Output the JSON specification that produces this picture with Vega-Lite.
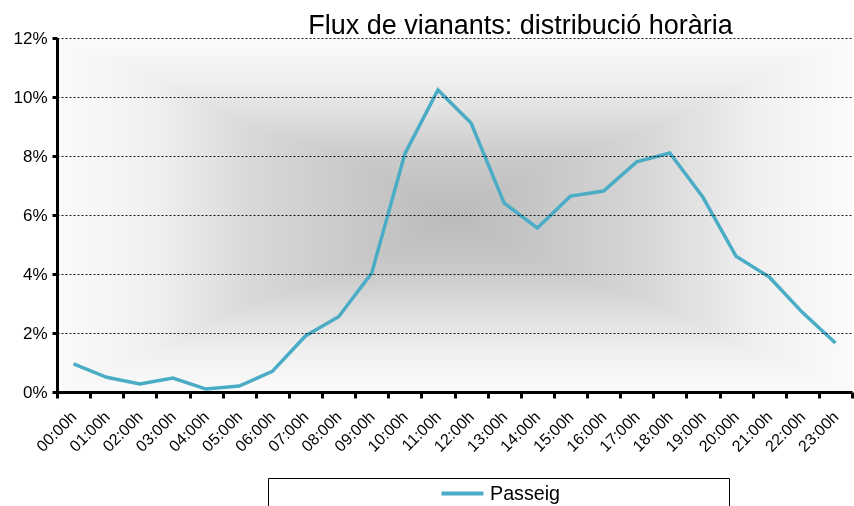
{
  "$schema": "https://vega.github.io/schema/vega-lite/v6.json",
  "autosize": {"type": "none"},
  "width": 795,
  "height": 354,
  "padding": {"left": 57, "top": 38, "right": 2, "bottom": 114},
  "background": "white",
  "config": {
    "font": "Liberation Sans",
    "view": {
      "stroke": null,
      "fill": {
        "gradient": "linear",
        "x1": 0, "y1": 0, "x2": 1, "y2": 0,
        "stops": [
          {"offset": 0, "color": "#fbfbfb"},
          {"offset": 0.12, "color": "#f0f0f0"},
          {"offset": 0.25, "color": "#d8d8d8"},
          {"offset": 0.4, "color": "#c6c6c6"},
          {"offset": 0.5, "color": "#bbbbbb"},
          {"offset": 0.6, "color": "#c6c6c6"},
          {"offset": 0.75, "color": "#d8d8d8"},
          {"offset": 0.88, "color": "#f0f0f0"},
          {"offset": 1, "color": "#fbfbfb"}
        ]
      }
    }
  },
  "title": {
    "text": "Flux de vianants: distribució horària",
    "fontSize": 27,
    "fontWeight": "normal",
    "color": "#000000",
    "anchor": "middle",
    "dx": 66,
    "dy": 16,
    "offset": 5
  },
  "data": {
    "values": [
      {"hora": "00:00h", "pct": 0.0095, "serie": "Passeig"},
      {"hora": "01:00h", "pct": 0.0050, "serie": "Passeig"},
      {"hora": "02:00h", "pct": 0.0027, "serie": "Passeig"},
      {"hora": "03:00h", "pct": 0.0047, "serie": "Passeig"},
      {"hora": "04:00h", "pct": 0.0010, "serie": "Passeig"},
      {"hora": "05:00h", "pct": 0.0020, "serie": "Passeig"},
      {"hora": "06:00h", "pct": 0.0070, "serie": "Passeig"},
      {"hora": "07:00h", "pct": 0.0190, "serie": "Passeig"},
      {"hora": "08:00h", "pct": 0.0255, "serie": "Passeig"},
      {"hora": "09:00h", "pct": 0.0403, "serie": "Passeig"},
      {"hora": "10:00h", "pct": 0.0807, "serie": "Passeig"},
      {"hora": "11:00h", "pct": 0.1024, "serie": "Passeig"},
      {"hora": "12:00h", "pct": 0.0912, "serie": "Passeig"},
      {"hora": "13:00h", "pct": 0.0640, "serie": "Passeig"},
      {"hora": "14:00h", "pct": 0.0556, "serie": "Passeig"},
      {"hora": "15:00h", "pct": 0.0664, "serie": "Passeig"},
      {"hora": "16:00h", "pct": 0.0681, "serie": "Passeig"},
      {"hora": "17:00h", "pct": 0.0780, "serie": "Passeig"},
      {"hora": "18:00h", "pct": 0.0810, "serie": "Passeig"},
      {"hora": "19:00h", "pct": 0.0660, "serie": "Passeig"},
      {"hora": "20:00h", "pct": 0.0460, "serie": "Passeig"},
      {"hora": "21:00h", "pct": 0.0390, "serie": "Passeig"},
      {"hora": "22:00h", "pct": 0.0270, "serie": "Passeig"},
      {"hora": "23:00h", "pct": 0.0166, "serie": "Passeig"}
    ]
  },
  "layer": [
    {
      "data": {"values": [{"zona": "fons"}]},
      "mark": {
        "type": "rect",
        "blend": "lighten",
        "fill": {
          "gradient": "linear",
          "x1": 0, "y1": 0, "x2": 0, "y2": 1,
          "stops": [
            {"offset": 0, "color": "#fbfbfb"},
            {"offset": 0.12, "color": "#efefef"},
            {"offset": 0.235, "color": "#dcdcdc"},
            {"offset": 0.33, "color": "#cbcbcb"},
            {"offset": 0.5, "color": "#bbbbbb"},
            {"offset": 0.67, "color": "#cbcbcb"},
            {"offset": 0.765, "color": "#dcdcdc"},
            {"offset": 0.88, "color": "#efefef"},
            {"offset": 1, "color": "#fbfbfb"}
          ]
        },
        "stroke": null
      },
      "encoding": {
        "y": {
          "datum": 0,
          "type": "quantitative",
          "scale": {"domain": [0, 0.12]},
          "axis": {
            "title": null,
            "zindex": 1,
            "format": ".0%",
            "values": [0, 0.02, 0.04, 0.06, 0.08, 0.1, 0.12],
            "labelFontSize": 17,
            "labelColor": "#000000",
            "labelPadding": 5,
            "tickColor": "#000000",
            "tickWidth": 3,
            "tickSize": 5,
            "domainColor": "#000000",
            "domainWidth": 3,
            "grid": true,
            "gridColor": "#000000",
            "gridDash": [2, 2],
            "gridWidth": 1,
            "gridOpacity": 0.9
          }
        },
        "y2": {"datum": 0.12}
      }
    },
    {
      "mark": {"type": "line", "strokeWidth": 3.5},
      "encoding": {
        "x": {
          "field": "hora",
          "type": "ordinal",
          "bandPosition": 0.5,
          "scale": {"type": "band", "paddingInner": 0, "paddingOuter": 0},
          "axis": {
            "title": null,
            "zindex": 1,
            "labelAngle": -45,
            "labelAlign": "right",
            "labelBaseline": "middle",
            "labelFontSize": 16,
            "labelColor": "#000000",
            "labelPadding": 16,
            "tickBand": "extent",
            "tickColor": "#000000",
            "tickWidth": 3,
            "tickSize": 6,
            "domainColor": "#000000",
            "domainWidth": 3,
            "grid": false
          }
        },
        "y": {
          "field": "pct",
          "type": "quantitative",
          "scale": {"domain": [0, 0.12]},
          "axis": {
            "title": null,
            "zindex": 1,
            "format": ".0%",
            "values": [0, 0.02, 0.04, 0.06, 0.08, 0.1, 0.12],
            "labelFontSize": 17,
            "labelColor": "#000000",
            "labelPadding": 5,
            "tickColor": "#000000",
            "tickWidth": 3,
            "tickSize": 5,
            "domainColor": "#000000",
            "domainWidth": 3,
            "grid": true,
            "gridColor": "#000000",
            "gridDash": [2, 2],
            "gridWidth": 1,
            "gridOpacity": 0.9
          }
        },
        "color": {
          "field": "serie",
          "type": "nominal",
          "scale": {"range": ["#4BACC6"]},
          "legend": {
            "title": null,
            "orient": "none",
            "legendX": 211,
            "legendY": 440,
            "symbolType": "M-2,0H2",
            "symbolStrokeWidth": 4,
            "symbolStrokeColor": "#4BACC6",
            "symbolFillColor": "transparent",
            "symbolSize": 441,
            "symbolOffset": 179,
            "labelFontSize": 19.7,
            "labelColor": "#000000",
            "labelLimit": 500,
            "labelOffset": 15,
            "labelExpr": "datum.label + '\u2800\u2800\u2800\u2800\u2800\u2800\u2800\u2800\u2800\u2800\u2800'",
            "strokeColor": "#000000",
            "fillColor": "#ffffff",
            "padding": 3
          }
        }
      }
    }
  ]
}
